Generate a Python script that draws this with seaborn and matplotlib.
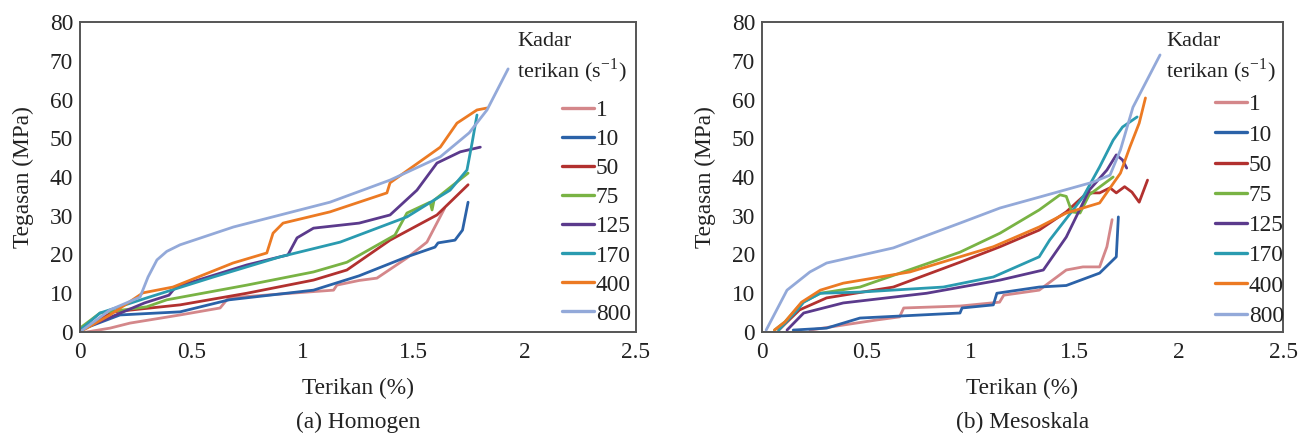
import numpy as np
import pandas as pd
import matplotlib
matplotlib.use("Agg")
import matplotlib.pyplot as plt
import seaborn as sns

# ---------------- data ----------------
RATES = ["1", "10", "50", "75", "125", "170", "400", "800"]
COLORS = ["#d4878a", "#2b62a8", "#b2312f", "#79b344", "#5b3a8c", "#2a9bb0", "#ec7a23", "#93a9d9"]

# (a) Homogen : strain (%) / stress (MPa)
homo_strain = {
    "1":   [0.03, 0.135, 0.225, 0.45, 0.63, 0.66, 0.67, 0.9, 1.14, 1.155, 1.255, 1.335, 1.47, 1.56, 1.64],
    "10":  [0.0, 0.18, 0.45, 0.67, 1.05, 1.255, 1.47, 1.596, 1.61, 1.686, 1.72, 1.745],
    "50":  [0.0, 0.15, 0.45, 0.75, 1.05, 1.2, 1.394, 1.605, 1.745],
    "75":  [0.0, 0.09, 0.3, 0.39, 0.75, 1.05, 1.2, 1.416, 1.448, 1.47, 1.574, 1.583, 1.592, 1.745],
    "125": [0.0, 0.29, 0.4, 0.43, 0.75, 0.935, 0.976, 1.05, 1.255, 1.394, 1.515, 1.605, 1.71, 1.8],
    "170": [0.0, 0.09, 0.3, 0.6, 0.9, 1.17, 1.47, 1.664, 1.74, 1.763, 1.785],
    "400": [0.0, 0.135, 0.283, 0.418, 0.688, 0.84, 0.868, 0.913, 1.124, 1.38, 1.394, 1.62, 1.695, 1.785, 1.83],
    "800": [0.0, 0.135, 0.27, 0.306, 0.346, 0.39, 0.45, 0.69, 1.124, 1.394, 1.62, 1.75, 1.83, 1.925],
}
homo_stress = {
    "1":   [0.0, 1.0, 2.3, 4.4, 6.2, 8.3, 8.8, 9.8, 10.8, 12.1, 13.3, 13.9, 19.1, 23.2, 32.0],
    "10":  [0.5, 4.4, 5.2, 8.3, 10.8, 14.5, 19.4, 21.9, 23.0, 23.7, 26.3, 33.5],
    "50":  [0.5, 5.2, 7.0, 10.0, 13.4, 16.0, 23.7, 30.2, 38.0],
    "75":  [1.0, 4.9, 6.5, 8.3, 12.1, 15.5, 18.0, 25.0, 28.4, 30.7, 33.5, 31.5, 34.0, 41.0],
    "125": [0.5, 7.5, 9.5, 11.6, 17.3, 19.9, 24.3, 26.8, 28.1, 30.2, 36.6, 43.6, 46.5, 47.7],
    "170": [0.5, 4.9, 8.8, 14.2, 19.4, 23.2, 29.7, 36.6, 41.8, 48.8, 56.0],
    "400": [0.0, 4.4, 10.1, 11.6, 17.8, 20.4, 25.5, 28.1, 31.0, 35.9, 38.5, 47.7, 53.9, 57.3, 57.8],
    "800": [0.0, 5.7, 9.0, 14.2, 18.6, 20.8, 22.5, 27.1, 33.5, 39.2, 45.2, 51.4, 57.3, 67.9],
}

# (b) Mesoskala : strain (%) / stress (MPa)
meso_strain = {
    "1":   [0.23, 0.55, 0.66, 0.68, 0.95, 1.14, 1.16, 1.33, 1.46, 1.54, 1.62, 1.655, 1.68],
    "10":  [0.15, 0.31, 0.47, 0.95, 0.96, 1.11, 1.127, 1.33, 1.46, 1.62, 1.70, 1.71],
    "50":  [0.08, 0.18, 0.31, 0.63, 0.95, 1.142, 1.33, 1.46, 1.56, 1.62, 1.67, 1.70, 1.74, 1.775, 1.81, 1.85],
    "75":  [0.06, 0.11, 0.19, 0.28, 0.47, 0.95, 1.142, 1.33, 1.43, 1.46, 1.487, 1.526, 1.57, 1.685],
    "125": [0.12, 0.2, 0.39, 0.79, 1.142, 1.35, 1.46, 1.57, 1.655, 1.70, 1.73, 1.75],
    "170": [0.08, 0.17, 0.2, 0.28, 0.47, 0.87, 1.11, 1.33, 1.38, 1.54, 1.62, 1.685, 1.73, 1.8],
    "400": [0.06, 0.11, 0.19, 0.28, 0.39, 0.71, 1.11, 1.33, 1.46, 1.62, 1.72, 1.765, 1.81, 1.84],
    "800": [0.02, 0.053, 0.12, 0.23, 0.31, 0.63, 0.95, 1.142, 1.33, 1.59, 1.67, 1.72, 1.78, 1.83, 1.91],
}
meso_stress = {
    "1":   [0.5, 3.1, 3.9, 6.2, 6.7, 7.7, 9.5, 10.8, 16.0, 16.8, 16.8, 22.0, 29.0],
    "10":  [0.5, 1.0, 3.6, 4.9, 6.2, 7.0, 10.0, 11.6, 12.0, 15.2, 19.4, 29.7],
    "50":  [0.5, 5.7, 8.8, 11.6, 18.0, 22.0, 26.3, 31.0, 35.9, 35.9, 37.2, 35.9, 37.5, 36.1, 33.5, 39.2],
    "75":  [0.5, 2.6, 7.5, 10.0, 11.6, 20.6, 25.5, 31.5, 35.4, 35.0, 31.0, 30.7, 35.4, 40.0],
    "125": [0.5, 4.9, 7.5, 10.0, 13.4, 16.0, 24.5, 36.6, 41.8, 45.7, 44.4, 42.3],
    "170": [0.5, 5.7, 7.7, 10.0, 10.3, 11.6, 14.2, 19.4, 23.7, 34.8, 42.6, 49.5, 52.9, 55.5],
    "400": [0.5, 2.6, 7.7, 10.8, 12.6, 15.5, 22.0, 27.1, 30.7, 33.3, 41.0, 47.7, 53.9, 60.4],
    "800": [0.5, 3.9, 10.8, 15.5, 17.8, 21.7, 28.1, 32.0, 34.8, 38.7, 40.5, 47.0, 58.0, 63.2, 71.5],
}

X_TICKS = [0, 0.5, 1, 1.5, 2, 2.5]
X_TICKLABELS = ["0", "0.5", "1", "1.5", "2", "2.5"]
Y_TICKS = [0, 10, 20, 30, 40, 50, 60, 70, 80]
XLABEL = "Terikan (%)"
YLABEL = "Tegasan (MPa)"
LEGEND_TITLE = "Kadar\nterikan (s$^{\\mathregular{-1}}$)"
CAPTIONS = ["(a) Homogen", "(b) Mesoskala"]


def long_frame(strain, stress):
    rows = []
    for r in RATES:
        for i, (s, t) in enumerate(zip(strain[r], stress[r])):
            rows.append({"rate": r, "order": i, "strain": s, "stress": t})
    return pd.DataFrame(rows)


sns.set_theme(style="white")
plt.rcParams["font.family"] = ["Liberation Serif", "DejaVu Serif"]
plt.rcParams["mathtext.fontset"] = "stix"

FS = 16.8
TXT = "#222222"
W, H = 1298, 441
fig = plt.figure(figsize=(W / 100, H / 100), dpi=100)

panels = [
    (homo_strain, homo_stress, (80, 22, 636, 332), (517, 32), (562, 100), 0.33),
    (meso_strain, meso_stress, (762, 22, 1283, 332), (1166, 32), (1215, 94), 0.38),
]
palette = dict(zip(RATES, COLORS))

for k, (st, ss, box, title_xy, leg_xy, lsp) in enumerate(panels):
    x0, y0, x1, y1 = box
    ax = fig.add_axes([x0 / W, 1 - y1 / H, (x1 - x0) / W, (y1 - y0) / H])
    df = long_frame(st, ss)
    sns.lineplot(data=df, x="strain", y="stress", hue="rate", hue_order=RATES,
                 palette=palette, estimator=None, sort=False, linewidth=2.0,
                 ax=ax, legend=False)
    for line in ax.get_lines():
        line.set_solid_joinstyle("round")
        line.set_solid_capstyle("round")
    ax.set_xlim(0, 2.5)
    ax.set_ylim(0, 80)
    ax.set_xticks(X_TICKS)
    ax.set_xticklabels(X_TICKLABELS)
    ax.set_yticks(Y_TICKS)
    ax.tick_params(axis="both", length=0, labelsize=FS, colors=TXT)
    ax.tick_params(axis="y", pad=5)
    ax.tick_params(axis="x", pad=7)
    ax.set_xlabel(XLABEL, fontsize=FS, color=TXT, labelpad=11)
    ax.set_ylabel(YLABEL, fontsize=FS, color=TXT, labelpad=11)
    for sp in ax.spines.values():
        sp.set_color("#555555")
        sp.set_linewidth(1.4)
    ax.grid(False)
    ax.set_facecolor("white")

    # legend title
    fig.text(title_xy[0] / W, 1 - title_xy[1] / H, LEGEND_TITLE, fontsize=16,
             color=TXT, ha="left", va="top", linespacing=1.3)
    handles = [plt.Line2D([], [], color=palette[r], lw=2.4) for r in RATES]
    ax.legend(handles, RATES, loc="upper left",
              bbox_to_anchor=(leg_xy[0] / W, 1 - leg_xy[1] / H),
              bbox_transform=fig.transFigure, frameon=False, fontsize=FS,
              borderpad=0, borderaxespad=0, handlelength=1.35, handletextpad=0.1,
              labelspacing=lsp, labelcolor=TXT)

    cx = (x0 + x1) / 2
    fig.text(cx / W, 1 - 422 / H, CAPTIONS[k], fontsize=FS, color=TXT,
             ha="center", va="center")

fig.savefig("out.png", dpi=100)
